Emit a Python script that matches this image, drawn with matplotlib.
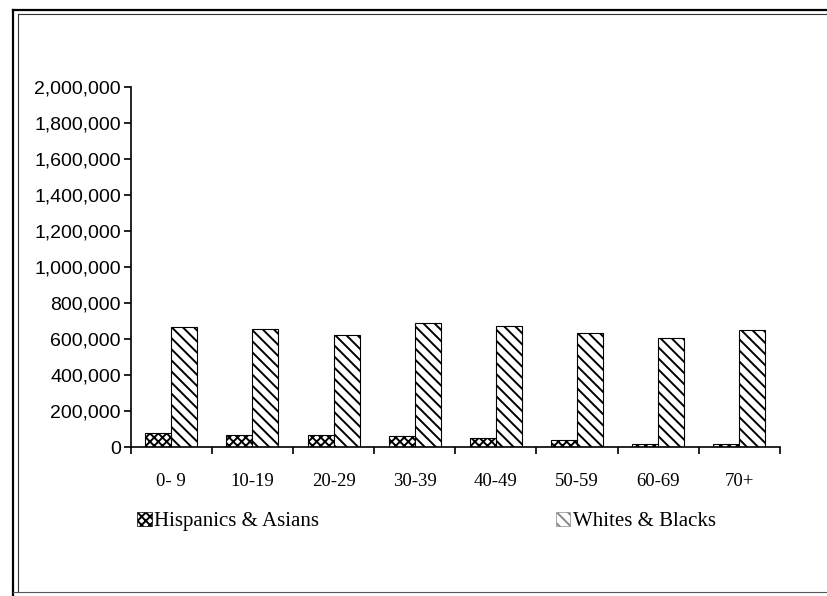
import matplotlib
matplotlib.use("Agg")
import matplotlib.pyplot as plt
from matplotlib.patches import Patch
from matplotlib.lines import Line2D
from matplotlib.ticker import FuncFormatter
import numpy as np

# data
age_groups = ["0- 9", "10-19", "20-29", "30-39", "40-49", "50-59", "60-69", "70+"]
hisp_asian = [78000, 67000, 67000, 61000, 50000, 39000, 17000, 15000]
white_black = [667000, 656000, 622000, 689000, 672000, 633000, 606000, 650000]
series_names = ["Hispanics & Asians", "Whites & Blacks"]

plt.rcParams["hatch.linewidth"] = 1.4

fig = plt.figure(figsize=(8.27, 5.96), dpi=100)
ax = fig.add_axes([0.158, 0.25, 0.785, 0.604])

x = np.arange(len(age_groups))
w = 0.32
ax.bar(x - w / 2, hisp_asian, w, color="white", edgecolor="black",
       hatch="xxxx", linewidth=0.8)
ax.bar(x + w / 2, white_black, w, color="white", edgecolor="black",
       hatch="\\\\\\", linewidth=0.8)

ax.set_xlim(-0.5, len(age_groups) - 0.5)
ax.set_ylim(0, 2000000)
ax.set_yticks(np.arange(0, 2000001, 200000))
ax.yaxis.set_major_formatter(FuncFormatter(lambda v, p: f"{int(v):,}"))
for lab in ax.get_yticklabels():
    lab.set_family("Liberation Sans")
    lab.set_fontsize(14)

# ticks between categories, labels centred under each group
ax.set_xticks(np.arange(-0.5, len(age_groups), 1.0))
ax.set_xticklabels([])
ax.set_xticks(x, minor=True)
ax.set_xticklabels(age_groups, minor=True, family="Liberation Serif", fontsize=13.5)
ax.tick_params(axis="x", which="minor", length=0, pad=19)
ax.tick_params(axis="x", which="major", direction="out", length=5, width=1.2)
ax.tick_params(axis="y", direction="out", length=5, width=1.2, pad=2)

for s in ["top", "right"]:
    ax.spines[s].set_visible(False)
ax.spines["left"].set_linewidth(1.2)
ax.spines["bottom"].set_linewidth(1.2)

h1 = Patch(facecolor="white", edgecolor="black", hatch="xxxx", linewidth=0.5)
h2 = Patch(facecolor="white", edgecolor="#888888", hatch="\\\\\\", linewidth=0.5)
leg_font = {"family": "Liberation Serif", "size": 15}
fig.legend(handles=[h1], labels=[series_names[0]], loc="center left",
           bbox_to_anchor=(0.156, 0.125), frameon=False, prop=leg_font,
           handlelength=0.7, handleheight=0.7, handletextpad=0.12,
           borderaxespad=0)
fig.legend(handles=[h2], labels=[series_names[1]], loc="center left",
           bbox_to_anchor=(0.662, 0.125), frameon=False, prop=leg_font,
           handlelength=0.7, handleheight=0.7, handletextpad=0.12,
           borderaxespad=0)

# double border round the chart area (right side is cut off in the scan)
W, H = 827.0, 596.0
def px_line(xs, ys, lw, color):
    fig.add_artist(Line2D([v / W for v in xs], [1 - v / H for v in ys],
                          transform=fig.transFigure, color=color, linewidth=lw))

px_line([13, 13], [10, 596], 1.6, "black")
px_line([13, 827], [10, 10], 1.6, "black")
px_line([18, 18], [14, 592], 0.8, "#333333")
px_line([18, 827], [14, 14], 0.8, "#333333")
px_line([13, 827], [592, 592], 0.8, "#555555")

fig.savefig("out.png", dpi=100)
